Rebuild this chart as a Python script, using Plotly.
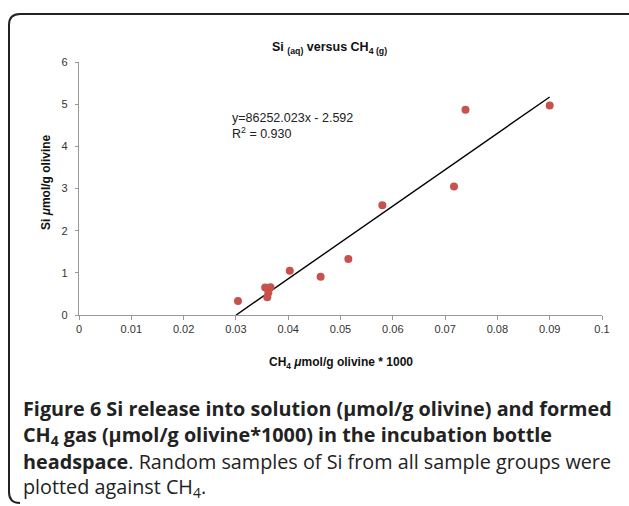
import plotly.graph_objects as go

# ---- data ----
ch4 = [0.0304, 0.0356, 0.0366, 0.0360, 0.0362, 0.0403, 0.0462, 0.0515, 0.0580, 0.0717, 0.0739, 0.0900]
si = [0.33, 0.65, 0.66, 0.42, 0.53, 1.05, 0.91, 1.33, 2.60, 3.05, 4.87, 4.97]
slope = 86.252023
intercept = -2.592
fit_x = [-intercept / slope, 0.09]
fit_y = [slope * v + intercept for v in fit_x]

x_ticks = [0, 0.01, 0.02, 0.03, 0.04, 0.05, 0.06, 0.07, 0.08, 0.09, 0.1]
x_tick_text = ["0", "0.01", "0.02", "0.03", "0.04", "0.05", "0.06", "0.07", "0.08", "0.09", "0.1"]
y_ticks = [0, 1, 2, 3, 4, 5, 6]

W, H = 629, 506
L, R, T, B = 79, 27, 62, 191
PW, PH = W - L - R, H - T - B


def px(xp):
    return (xp - L) / PW


def py(yp):
    return (H - B - yp) / PH


fig = go.Figure()
fig.add_trace(go.Scatter(x=fit_x, y=fit_y, mode="lines",
                         line=dict(color="black", width=1.4), hoverinfo="skip"))
fig.add_trace(go.Scatter(x=ch4, y=si, mode="markers",
                         marker=dict(color="#c9514c", size=8)))

axis_font = dict(family="Liberation Sans, Arial", size=11, color="#333")
fig.update_xaxes(range=[0, 0.1], tickvals=x_ticks, ticktext=x_tick_text,
                 showline=True, linecolor="#999", linewidth=1.3,
                 ticks="outside", ticklen=4, tickcolor="#999",
                 showgrid=False, zeroline=False, tickfont=axis_font)
fig.update_yaxes(range=[0, 6], tickvals=y_ticks,
                 showline=True, linecolor="#999", linewidth=1.3,
                 ticks="outside", ticklen=3, tickcolor="#999",
                 ticklabelstandoff=5,
                 showgrid=False, zeroline=False, tickfont=axis_font)

# rounded frame
x0, x1, y0, y1, r = 9, 645, 14, 503, 11
pathd = (f"M {px(x0 + r)},{py(y0)} L {px(x1)},{py(y0)} "
         f"M {px(x0 + r)},{py(y0)} Q {px(x0)},{py(y0)} {px(x0)},{py(y0 + r)} "
         f"L {px(x0)},{py(y1 - r)} Q {px(x0)},{py(y1)} {px(x0 + r)},{py(y1)}")
shapes = [dict(type="path", xref="paper", yref="paper", path=pathd,
               line=dict(color="#222", width=2))]

chart_font = "Liberation Sans, Arial"
ann = []
ann.append(dict(text="<b>Si <sub>(aq)</sub> versus CH<sub>4 (g)</sub></b>",
                x=px(329), y=py(38), xref="paper", yref="paper", showarrow=False,
                font=dict(family=chart_font, size=12.5, color="#111")))
ann.append(dict(text="y=86252.023x - 2.592<br>R<sup>2</sup> = 0.930",
                x=px(230), y=py(109), xref="paper", yref="paper", showarrow=False,
                xanchor="left", align="left",
                font=dict(family=chart_font, size=12.5, color="#222")))
ann.append(dict(text="<b>CH<sub>4</sub> <i>μ</i>mol/g olivine * 1000</b>",
                x=px(341), y=py(373), xref="paper", yref="paper", showarrow=False,
                font=dict(family=chart_font, size=12, color="#111")))
ann.append(dict(text="<b>Si <i>μ</i>mol/g olivine</b>",
                x=px(37), y=py(182), xref="paper", yref="paper", showarrow=False,
                textangle=-90,
                font=dict(family=chart_font, size=12, color="#111")))

cap_font = "Open Sans, Noto Sans"
cap_lines = [
    "<b>Figure 6 Si release into solution (μmol/g olivine) and formed</b>",
    "<b>CH<sub>4</sub> gas (μmol/g olivine*1000) in the incubation bottle</b>",
    "<b>headspace</b>. Random samples of Si from all sample groups were",
    "plotted against CH<sub>4</sub>.",
]
cap_y = [408, 435, 461, 487]
for t, yy in zip(cap_lines, cap_y):
    ann.append(dict(text=t, x=px(21), y=py(yy), xref="paper", yref="paper",
                    showarrow=False, xanchor="left", yanchor="middle", align="left",
                    font=dict(family=cap_font, size=19.8, color="#222")))

fig.update_layout(width=W, height=H, margin=dict(l=L, r=R, t=T, b=B),
                  plot_bgcolor="white", paper_bgcolor="white",
                  showlegend=False, shapes=shapes, annotations=ann)

fig.write_html("out.html", config={"displayModeBar": False},
               post_script="document.body.style.margin='0';")
